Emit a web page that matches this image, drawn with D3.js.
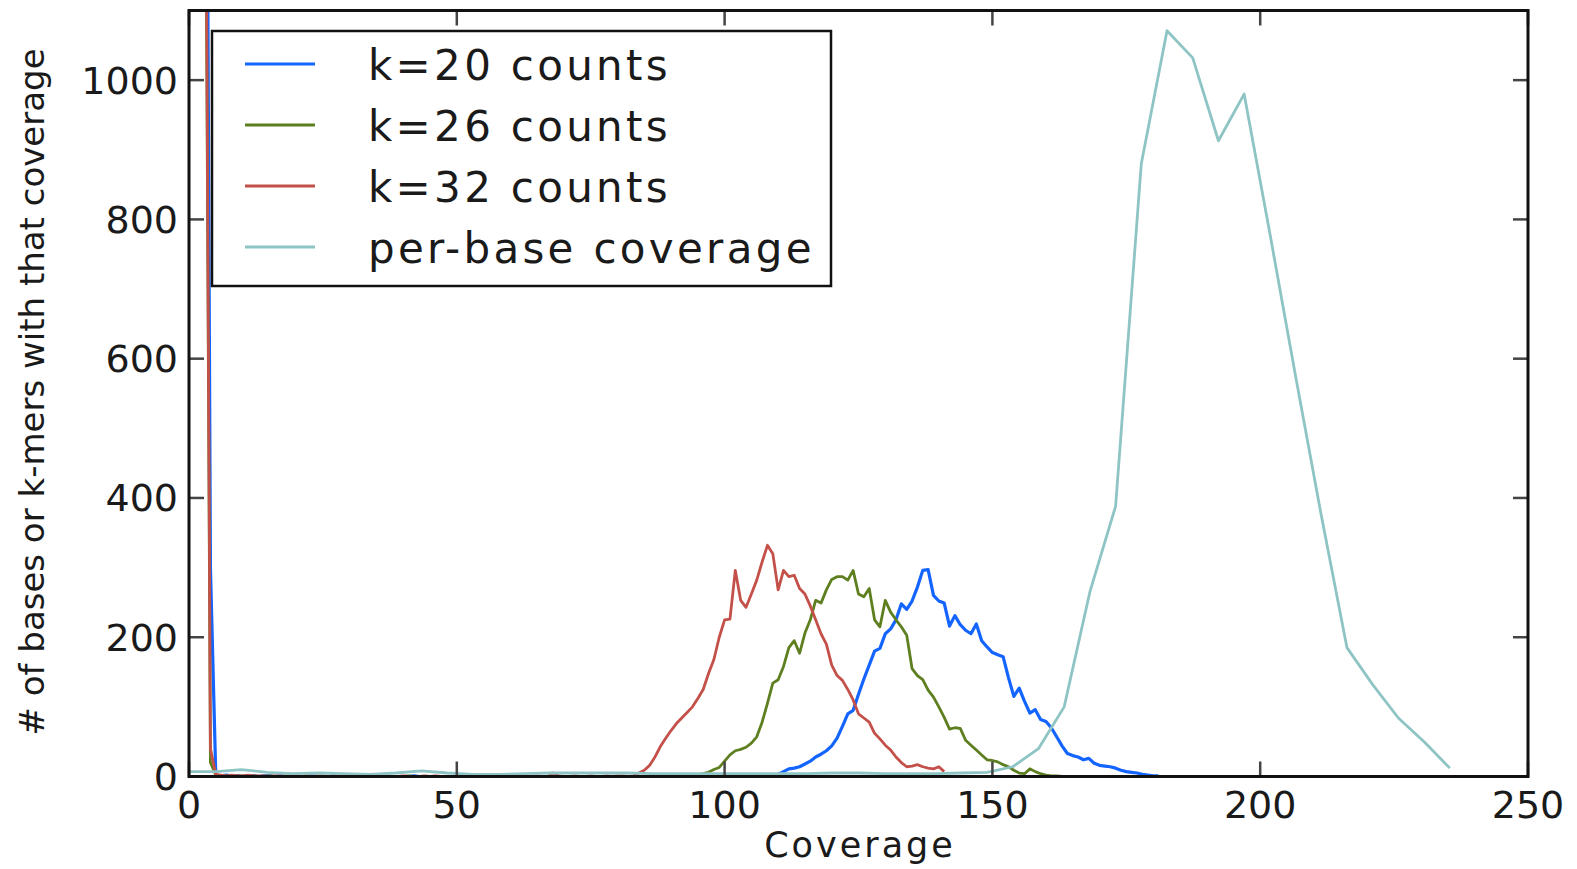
<!DOCTYPE html>
<html>
<head>
<meta charset="utf-8">
<script src="https://cdn.jsdelivr.net/npm/d3@7"></script>
<style>
  html, body { margin: 0; padding: 0; background: #fff; }
  svg { display: block; }
  text { font-family: "DejaVu Sans", sans-serif; fill: #1a1a1a; }
</style>
</head>
<body>
<svg id="chart" width="1577" height="869"></svg>
<script>
// ---------------- data ----------------
const xTicks = [0, 50, 100, 150, 200, 250];
const yTicks = [0, 200, 400, 600, 800, 1000];
const seriesNames = ["k=20 counts", "k=26 counts", "k=32 counts", "per-base coverage"];
const seriesColors = ["#1464ff", "#5e7f1f", "#c4504a", "#8ec4c4"];

// k-mer count histograms: value at coverage = firstCoverage + index
const k20First = 1;
const k20Counts = [
  20000, 6000, 2000, 300, 2,
  1,2,1,1,0,1,1,0,1,1,
  0,1,0,0,1,0,0,1,0,0,
  0,1,0,0,0,1,0,0,0,0,
  1,0,0,0,0,0,1,0,0,0,
  0,0,0,0,0,0,0,0,1,0,
  0,0,0,0,0,0,0,0,0,0,
  0,0,0,0,0,0,0,0,0,0,
  0,0,0,0,0,0,0,0,0,0,
  0,0,0,0,0,0,0,0,0,0,
  0,0,0,0,0,0,0,0,1,0,1,1,
  1,2,3,7,11,12,14,18,22,28,
  32,37,44,55,72,90,95,118,140,160,
  180,184,205,212,225,248,240,252,272,296,
  297,260,252,249,216,231,218,210,205,219,
  195,186,178,175,172,142,115,127,108,91,
  96,82,79,70,57,44,33,30,28,24,
  26,19,16,15,14,12,9,7,6,5,
  3,2,1,1
];

const k26First = 1;
const k26Counts = [
  20000, 6000, 1500, 20, 2,
  1,1,0,1,1,0,1,0,0,1,
  0,0,1,0,0,0,1,0,0,0,
  0,0,0,1,0,0,0,0,0,0,
  0,0,0,0,0,1,0,0,0,0,
  0,0,0,0,0,0,0,0,0,0,
  0,0,0,0,0,0,0,0,0,0,
  0,0,0,0,0,0,0,0,0,0,
  0,0,0,0,0,0,0,0,0,0,
  0,0,0,0,0,0,0,1,1,
  2,4,6,10,13,22,31,37,39,42,
  48,57,78,105,134,139,158,185,195,177,
  206,225,253,249,268,283,287,287,282,296,
  262,258,270,225,215,253,236,225,215,203,
  155,145,139,124,114,100,85,68,70,69,
  52,45,38,31,24,23,21,17,14,9,
  5,4,11,7,4,2,1,1,0
];

const k32First = 1;
const k32Counts = [
  25000, 8000, 1560, 40, 3,
  2,1,2,1,1,2,1,1,1,0,
  1,1,0,1,1,0,1,0,1,1,
  0,1,0,0,1,1,0,0,1,0,
  0,1,0,0,1,0,0,0,1,0,
  1,0,0,0,1,0,0,0,0,1,
  0,0,0,1,0,0,1,0,0,1,
  0,0,5,1,0,0,1,0,0,1,
  0,0,1,0,1,1,0,1,
  5,9,16,28,43,55,66,76,84,92,
  100,112,125,148,168,200,225,226,296,253,
  243,262,282,308,332,320,268,296,287,289,
  270,262,245,225,205,190,160,145,138,125,
  110,90,84,78,62,54,45,38,28,20,
  14,15,17,14,12,11,14,7
];

// per-base coverage (coarser bins)
const baseCoverageX = [
  0.2, 5.0, 9.8, 14.6, 19.4, 24.2, 29.0, 33.8, 38.6, 43.4,
  48.2, 53.0, 57.8, 62.6, 67.4, 72.2, 77.0, 81.8, 86.6, 91.4,
  96.2, 101.0, 105.8, 110.6, 115.4, 120.2, 125.0, 129.8, 134.6, 139.4,
  144.2, 149.0, 153.8, 158.6, 163.4, 168.2, 173.0, 177.8, 182.6, 187.4,
  192.2, 197.0, 201.8, 206.6, 211.4, 216.2, 221.0, 225.8, 230.6, 235.4
];
const baseCoverageY = [
  7, 7, 10, 6, 4, 5, 4, 3, 5, 8,
  5, 3, 3, 4, 5, 5, 5, 5, 4, 4,
  4, 4, 4, 4, 4, 5, 5, 4, 4, 4,
  5, 6, 14, 40, 100, 265, 388, 880, 1071, 1032,
  913, 980, 780, 575, 375, 185, 132, 84, 50, 12
];

// ---------------- layout ----------------
const svg = d3.select("#chart");
const L = 189, R = 1528, T = 10.5, B = 776.5;

const x = d3.scaleLinear().domain([0, 250]).range([L, R]);
const y = d3.scaleLinear().domain([0, 1100]).range([B, T]);

svg.append("defs").append("clipPath").attr("id", "plotclip")
  .append("rect").attr("x", L).attr("y", T).attr("width", R - L).attr("height", B - T);

const toPts = (first, arr) => arr.map((v, i) => [first + i, v]);
const series = [
  toPts(k20First, k20Counts),
  toPts(k26First, k26Counts),
  toPts(k32First, k32Counts),
  baseCoverageX.map((c, i) => [c, baseCoverageY[i]])
];
const widths = [3.2, 2.8, 2.8, 2.8];

const line = d3.line().x(d => x(d[0])).y(d => y(d[1]));
const g = svg.append("g").attr("clip-path", "url(#plotclip)");
series.forEach((s, i) => {
  g.append("path").datum(s)
    .attr("d", line)
    .attr("fill", "none")
    .attr("stroke", seriesColors[i])
    .attr("stroke-width", widths[i])
    .attr("stroke-linejoin", "round");
});

// ticks (inward, all four sides)
const tickLen = 15;
const tickColor = "#444";
const ticksG = svg.append("g");
xTicks.forEach(t => {
  ticksG.append("line").attr("x1", x(t)).attr("x2", x(t)).attr("y1", B).attr("y2", B - tickLen)
    .attr("stroke", tickColor).attr("stroke-width", 2.5);
  ticksG.append("line").attr("x1", x(t)).attr("x2", x(t)).attr("y1", T).attr("y2", T + tickLen)
    .attr("stroke", tickColor).attr("stroke-width", 2.5);
});
yTicks.forEach(t => {
  ticksG.append("line").attr("x1", L).attr("x2", L + tickLen).attr("y1", y(t)).attr("y2", y(t))
    .attr("stroke", tickColor).attr("stroke-width", 2.5);
  ticksG.append("line").attr("x1", R).attr("x2", R - tickLen).attr("y1", y(t)).attr("y2", y(t))
    .attr("stroke", tickColor).attr("stroke-width", 2.5);
});

// frame
svg.append("rect").attr("x", L).attr("y", T).attr("width", R - L).attr("height", B - T)
  .attr("fill", "none").attr("stroke", "#111").attr("stroke-width", 3);

// tick labels
svg.append("g").selectAll("text").data(xTicks).join("text")
  .attr("x", d => x(d)).attr("y", 818)
  .attr("text-anchor", "middle").attr("font-size", 38)
  .text(d => d);
svg.append("g").selectAll("text").data(yTicks).join("text")
  .attr("x", 178).attr("y", d => y(d) + 13.5)
  .attr("text-anchor", "end").attr("font-size", 38)
  .text(d => d);

// axis labels
svg.append("text").attr("x", 860).attr("y", 857)
  .attr("text-anchor", "middle").attr("font-size", 35).attr("letter-spacing", 3)
  .text("Coverage");
svg.append("text")
  .attr("transform", "translate(44,392) rotate(-90)")
  .attr("text-anchor", "middle").attr("font-size", 34)
  .text("# of bases or k-mers with that coverage");

// legend
const lg = svg.append("g");
lg.append("rect").attr("x", 212).attr("y", 31).attr("width", 619).attr("height", 255)
  .attr("fill", "#fff").attr("stroke", "#111").attr("stroke-width", 2.5);
const rowY = [64, 125, 186, 247];
seriesNames.forEach((name, i) => {
  lg.append("line").attr("x1", 245).attr("x2", 315).attr("y1", rowY[i]).attr("y2", rowY[i])
    .attr("stroke", seriesColors[i]).attr("stroke-width", widths[i]);
  lg.append("text").attr("x", 368).attr("y", rowY[i] + 16)
    .attr("font-size", 42).attr("letter-spacing", 3.3)
    .text(name);
});
</script>
</body>
</html>
